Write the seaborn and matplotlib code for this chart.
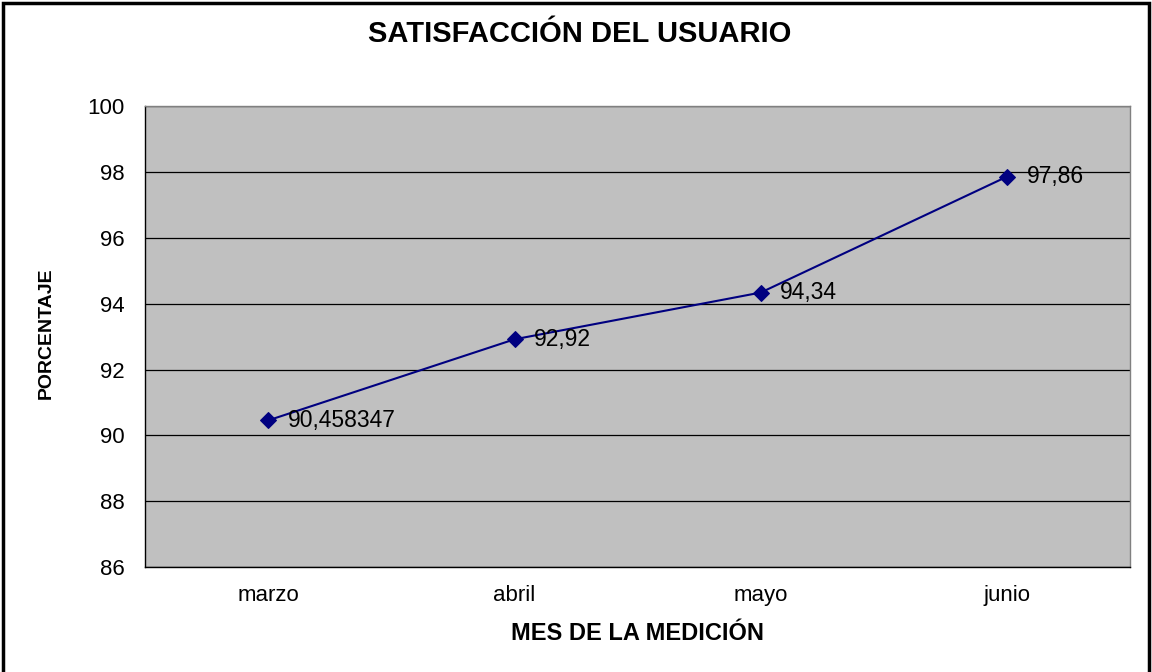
import matplotlib
matplotlib.use("Agg")
import matplotlib.pyplot as plt
import matplotlib.patches as patches
import seaborn as sns
import pandas as pd

meses = ["marzo", "abril", "mayo", "junio"]
porcentaje = [90.458347, 92.92, 94.34, 97.86]
etiquetas = ["90,458347", "92,92", "94,34", "97,86"]

df = pd.DataFrame({"pos": range(len(meses)), "mes": meses, "valor": porcentaje})

sns.set_style("white")
plt.rcParams["font.family"] = ["Liberation Sans", "DejaVu Sans"]
plt.rcParams["text.color"] = "black"
plt.rcParams["xtick.color"] = "black"
plt.rcParams["ytick.color"] = "black"
plt.rcParams["axes.labelcolor"] = "black"

fig = plt.figure(figsize=(11.52, 6.72), dpi=100)
ax = fig.add_axes([0.126, 0.156, 0.855, 0.686])
ax.set_facecolor("#C0C0C0")

sns.lineplot(data=df, x="pos", y="valor", ax=ax, color="#000080", linewidth=1.5,
             marker="D", markersize=8.5, markeredgecolor="#000080")

for x, y, t in zip(df["pos"], df["valor"], etiquetas):
    ax.annotate(t, (x, y), xytext=(14, 0), textcoords="offset points",
                va="center", ha="left", fontsize=16.5)

ax.set_ylim(86, 100)
ax.set_yticks(range(86, 101, 2))
ax.set_xlim(-0.5, len(meses) - 0.5)
ax.set_xticks(range(len(meses)))
ax.set_xticklabels(meses)
ax.set_xticks([i - 0.5 for i in range(len(meses) + 1)], minor=True)
ax.tick_params(axis="x", which="major", length=0, pad=13, labelsize=16)
ax.tick_params(axis="x", which="minor", length=6, width=0.8, direction="out", color="black")
ax.tick_params(axis="y", length=6, width=0.8, direction="out", color="black", labelsize=16, pad=9)
ax.yaxis.grid(True, color="black", linewidth=0.9)
ax.set_axisbelow(True)
for side in ["top", "right"]:
    ax.spines[side].set_color("#808080")
    ax.spines[side].set_linewidth(1)
for side in ["left", "bottom"]:
    ax.spines[side].set_color("black")
    ax.spines[side].set_linewidth(1)

ax.set_xlabel("")
ax.set_ylabel("")
fig.text(0.553, 0.057, "MES DE LA MEDICIÓN", ha="center", va="center",
         fontsize=17, fontweight="bold")
fig.text(0.040, 0.504, "PORCENTAJE", ha="center", va="center", rotation=90,
         fontsize=14, fontweight="bold")
fig.text(0.503, 0.950, "SATISFACCIÓN DEL USUARIO", ha="center", va="center",
         fontsize=21, fontweight="bold")

fig.patches.append(patches.Rectangle((2.5 / 1152, -0.01), 1146.5 / 1152, 1.0 - 2.5 / 672 + 0.01,
                                     transform=fig.transFigure, fill=False,
                                     edgecolor="black", linewidth=2.5))

fig.savefig("out.png", dpi=100)
